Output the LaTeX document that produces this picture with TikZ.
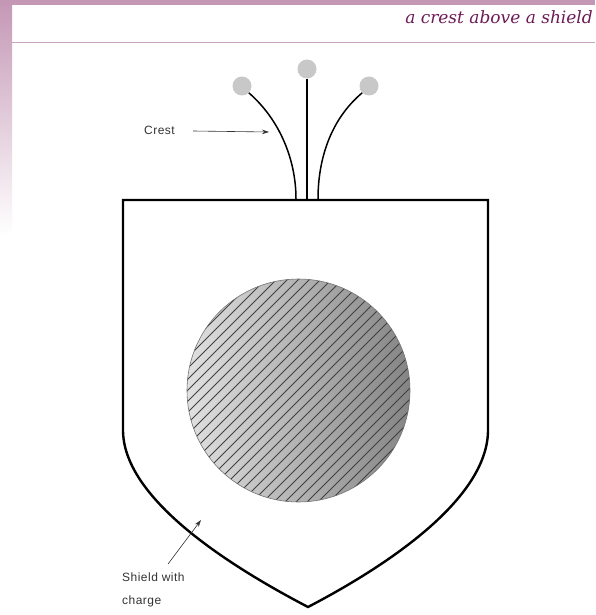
\documentclass[tikz,border=0pt]{standalone}
\usepackage{fontspec}
\setmainfont{Liberation Serif}
\setsansfont{Liberation Sans}
\newfontfamily\titlefont{DejaVu Serif}
\usetikzlibrary{arrows.meta}
\definecolor{band}{HTML}{C497B5}
\definecolor{rule}{HTML}{C9A2BC}
\definecolor{titlec}{HTML}{6E1A56}
\definecolor{ball}{HTML}{C8C8C8}
\tikzset{
  shieldline/.style={line width=2.4pt, line join=miter},
  stem/.style={line width=1.5pt},
  ballnode/.style={circle, fill=ball, minimum size=19pt, inner sep=0pt},
  lbl/.style={font=\sffamily\fontsize{12}{23}\selectfont\addfontfeatures{LetterSpace=4}, text=black!80, inner sep=0pt},
  pointer/.style={line width=0.6pt, draw=black!80, -{Stealth[length=7pt,width=4.5pt]}},
}
\begin{document}
\begin{tikzpicture}[x=1pt,y=-1pt]
\useasboundingbox (0,0) rectangle (595,615);
% background frame
\fill[white] (0,0) rectangle (595,615);
\shade[top color=band, bottom color=white] (0,0) rectangle (12,235);
\fill[band] (0,0) rectangle (595,5);
\draw[rule, line width=1pt] (12,43) -- (595,43);
\node[anchor=base east, font=\titlefont\itshape\fontsize{17}{20}\selectfont, text=titlec, inner sep=0pt] (title) at (593,24) {a crest above a shield};
% charge
\coordinate (C) at (298.5,390.5);
\shade[left color=black!12, right color=black!48] (C) circle (111.5);
\begin{scope}
\clip (C) circle (111.5);
\foreach \c in {523,534,...,860}
  \draw[black!75, line width=0.75pt] (\c-250,250) -- (\c-550,550);
\end{scope}
\draw[black!55, line width=0.6pt] (C) circle (111.5);
% shield
\coordinate (tl) at (123,200);
\coordinate (tr) at (488,200);
\coordinate (bp) at (308,607);
\draw[shieldline] (tl) -- (tr) -- (488,430) .. controls (488,495) and (398,560) .. (bp)
  .. controls (218,560) and (123,495) .. (123,430) -- cycle;
% crest
\node[ballnode] (b1) at (242,86) {};
\node[ballnode] (b2) at (307,69) {};
\node[ballnode] (b3) at (369,86) {};
\coordinate (s1) at (296,199);
\coordinate (s2) at (307,199);
\coordinate (s3) at (318,199);
\draw[stem] (b1.-45) .. controls (280,120) and (296,160) .. (s1);
\draw[stem] (b2.south) -- (s2);
\draw[stem] (b3.-135) .. controls (330,120) and (318,160) .. (s3);
% labels
\node[lbl, anchor=west] (crest) at (144,130) {Crest};
\coordinate (crestStart) at (193,131);
\coordinate (crestTip) at (269,132);
\draw[pointer] (crestStart) -- (crestTip);
\node[lbl, anchor=north west, align=left] (shieldlbl) at (122,573) {Shield with\\charge};
\coordinate (shieldStart) at (168,564);
\coordinate (shieldTip) at (201,520);
\draw[pointer] (shieldStart) -- (shieldTip);
\end{tikzpicture}
\end{document}
